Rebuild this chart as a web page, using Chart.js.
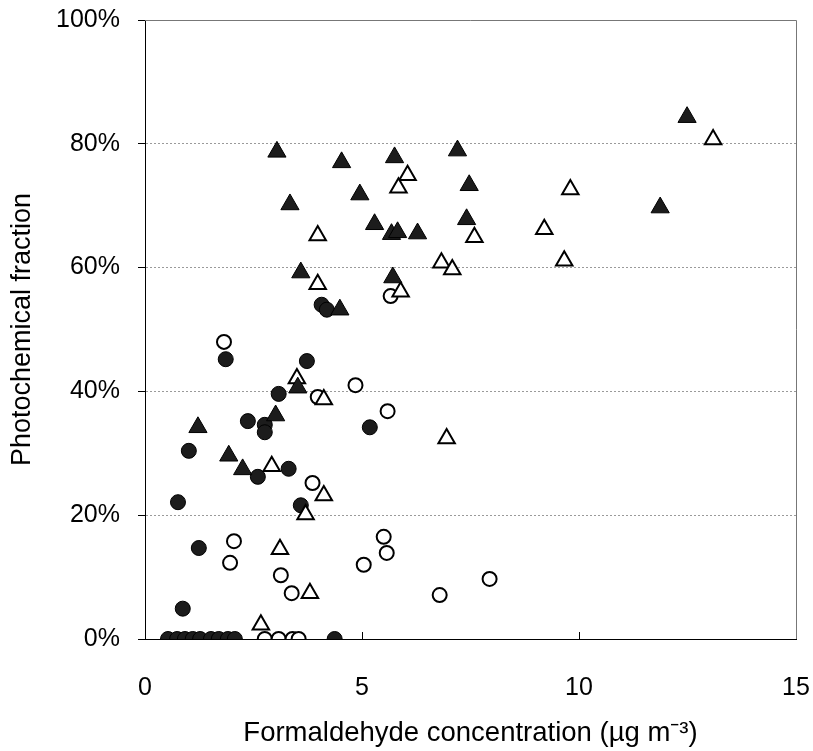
<!DOCTYPE html>
<html>
<head>
<meta charset="utf-8">
<script src="https://cdn.jsdelivr.net/npm/chart.js@4"></script>
<style>
  html, body { margin: 0; padding: 0; background: #fff; }
  #wrap { width: 813px; height: 751px; }
</style>
</head>
<body>
<div id="wrap"><canvas id="chart" width="813" height="751"></canvas></div>
<script>
// Photochemical fraction vs formaldehyde concentration

const xTicks = [0, 5, 10, 15];
const yTicks = [0, 20, 40, 60, 80, 100];

// filled triangles
const filledTriX = [3.04, 4.53, 5.75, 7.20, 3.34, 4.95, 7.47, 5.29, 5.68, 5.82, 6.28, 7.41, 3.59, 5.71, 4.49, 12.49, 11.87, 3.52, 3.01, 1.22, 1.93, 2.25];
const filledTriY = [78.7, 77.0, 77.8, 78.9, 70.2, 71.8, 73.3, 67.0, 65.4, 65.7, 65.5, 67.8, 59.2, 58.4, 53.2, 84.3, 69.7, 40.6, 36.1, 34.2, 29.6, 27.4];

// open triangles
const openTriX = [6.05, 5.84, 3.98, 6.83, 7.08, 3.98, 5.89, 13.09, 9.80, 7.59, 9.20, 9.66, 3.50, 4.12, 6.95, 2.92, 4.12, 3.70, 3.11, 3.80, 2.67];
const openTriY = [74.9, 72.9, 65.2, 60.8, 59.7, 57.3, 56.1, 80.7, 72.6, 64.9, 66.2, 61.1, 42.1, 38.7, 32.4, 27.9, 23.2, 20.1, 14.5, 7.4, 2.3];

// filled circles
const filledCircX = [4.07, 4.19, 1.86, 3.73, 3.08, 2.37, 2.76, 2.76, 5.18, 1.01, 3.31, 2.60, 0.76, 3.59, 1.24, 0.87, 0.53, 0.74, 0.92, 1.10, 1.27, 1.52, 1.70, 1.91, 2.07, 4.37];
const filledCircY = [54.0, 53.2, 45.2, 44.9, 39.6, 35.2, 34.6, 33.4, 34.2, 30.4, 27.5, 26.2, 22.1, 21.6, 14.7, 4.9, 0, 0, 0, 0, 0, 0, 0, 0, 0, 0];

// open circles
const openCircX = [5.66, 1.82, 4.85, 3.98, 5.59, 3.86, 2.05, 1.96, 3.13, 3.38, 5.04, 5.50, 5.57, 6.79, 7.94, 2.76, 3.08, 3.40, 3.54];
const openCircY = [55.4, 48.0, 41.0, 39.1, 36.8, 25.2, 15.8, 12.3, 10.3, 7.4, 12.0, 16.5, 13.9, 7.1, 9.7, 0, 0, 0, 0];

const toPoints = (xs, ys) => xs.map((x, i) => ({ x: x, y: ys[i] }));

// frame on top/right and inward x ticks
const framePlugin = {
    id: 'frame',
    afterDraw(chart) {
        const { ctx, chartArea } = chart;
        const xs = chart.scales.x;
        ctx.save();
        ctx.strokeStyle = '#777';
        ctx.lineWidth = 1;
        ctx.beginPath();
        ctx.moveTo(chartArea.left, chartArea.top + 0.5);
        ctx.lineTo(chartArea.right + 0.5, chartArea.top + 0.5);
        ctx.lineTo(chartArea.right + 0.5, chartArea.bottom);
        ctx.stroke();
        ctx.strokeStyle = '#000';
        ctx.beginPath();
        xTicks.slice(1, -1).forEach(v => {
            const px = Math.round(xs.getPixelForValue(v)) + 0.5;
            ctx.moveTo(px, chartArea.bottom);
            ctx.lineTo(px, chartArea.bottom - 7);
        });
        ctx.stroke();
        ctx.restore();
    }
};

const markerFill = '#1c1c1c';

new Chart(document.getElementById('chart'), {
    type: 'scatter',
    data: {
        datasets: [
            {
                label: 'filled triangles',
                data: toPoints(filledTriX, filledTriY),
                pointStyle: 'triangle',
                pointRadius: 10.5,
                backgroundColor: markerFill,
                borderColor: '#000',
                borderWidth: 1,
                order: 0
            },
            {
                label: 'open triangles',
                data: toPoints(openTriX, openTriY),
                pointStyle: 'triangle',
                pointRadius: 9.5,
                backgroundColor: '#fff',
                borderColor: '#000',
                borderWidth: 2,
                order: 1
            },
            {
                label: 'open circles',
                data: toPoints(openCircX, openCircY),
                pointStyle: 'circle',
                pointRadius: 7,
                backgroundColor: '#fff',
                borderColor: '#000',
                borderWidth: 2,
                order: 2
            },
            {
                label: 'filled circles',
                data: toPoints(filledCircX, filledCircY),
                pointStyle: 'circle',
                pointRadius: 7.5,
                backgroundColor: markerFill,
                borderColor: '#000',
                borderWidth: 1,
                order: 3
            }
        ]
    },
    options: {
        responsive: false,
        animation: false,
        events: [],
        layout: { padding: { top: 20, right: 17, left: 0, bottom: 0 } },
        plugins: {
            legend: { display: false },
            tooltip: { enabled: false }
        },
        scales: {
            x: {
                type: 'linear',
                min: 0,
                max: 15,
                afterFit: (scale) => {
                    scale.height = 112;
                    scale.paddingLeft = 0;
                    scale.paddingRight = 0;
                },
                afterBuildTicks: (scale) => { scale.ticks = xTicks.map(v => ({ value: v })); },
                grid: { display: false, drawTicks: false },
                border: { display: true, color: '#000', width: 1 },
                ticks: {
                    padding: 34,
                    color: '#000',
                    font: { family: 'Liberation Sans', size: 25 }
                },
                title: {
                    display: true,
                    text: 'Formaldehyde concentration (µg m⁻³)',
                    color: '#000',
                    font: { family: 'Liberation Sans', size: 27.5 },
                    padding: { top: 0, bottom: 1 }
                }
            },
            y: {
                type: 'linear',
                min: 0,
                max: 100,
                afterFit: (scale) => {
                    scale.width = 145;
                    scale.paddingTop = 0;
                    scale.paddingBottom = 0;
                },
                afterBuildTicks: (scale) => { scale.ticks = yTicks.map(v => ({ value: v })); },
                grid: {
                    color: (c) => (c.tick && (c.tick.value === 0 || c.tick.value === 100)) ? 'rgba(0,0,0,0)' : '#9a9a9a',
                    tickColor: '#000',
                    tickLength: 7,
                    lineWidth: 1
                },
                border: { display: true, color: '#000', width: 1, dash: [2, 2] },
                ticks: {
                    padding: 18,
                    color: '#000',
                    font: { family: 'Liberation Sans', size: 25 },
                    callback: (v) => v + '%'
                },
                title: {
                    display: true,
                    text: 'Photochemical fraction',
                    color: '#000',
                    font: { family: 'Liberation Sans', size: 27 },
                    padding: { top: 6, bottom: 0 }
                }
            }
        }
    },
    plugins: [framePlugin]
});
</script>
</body>
</html>
